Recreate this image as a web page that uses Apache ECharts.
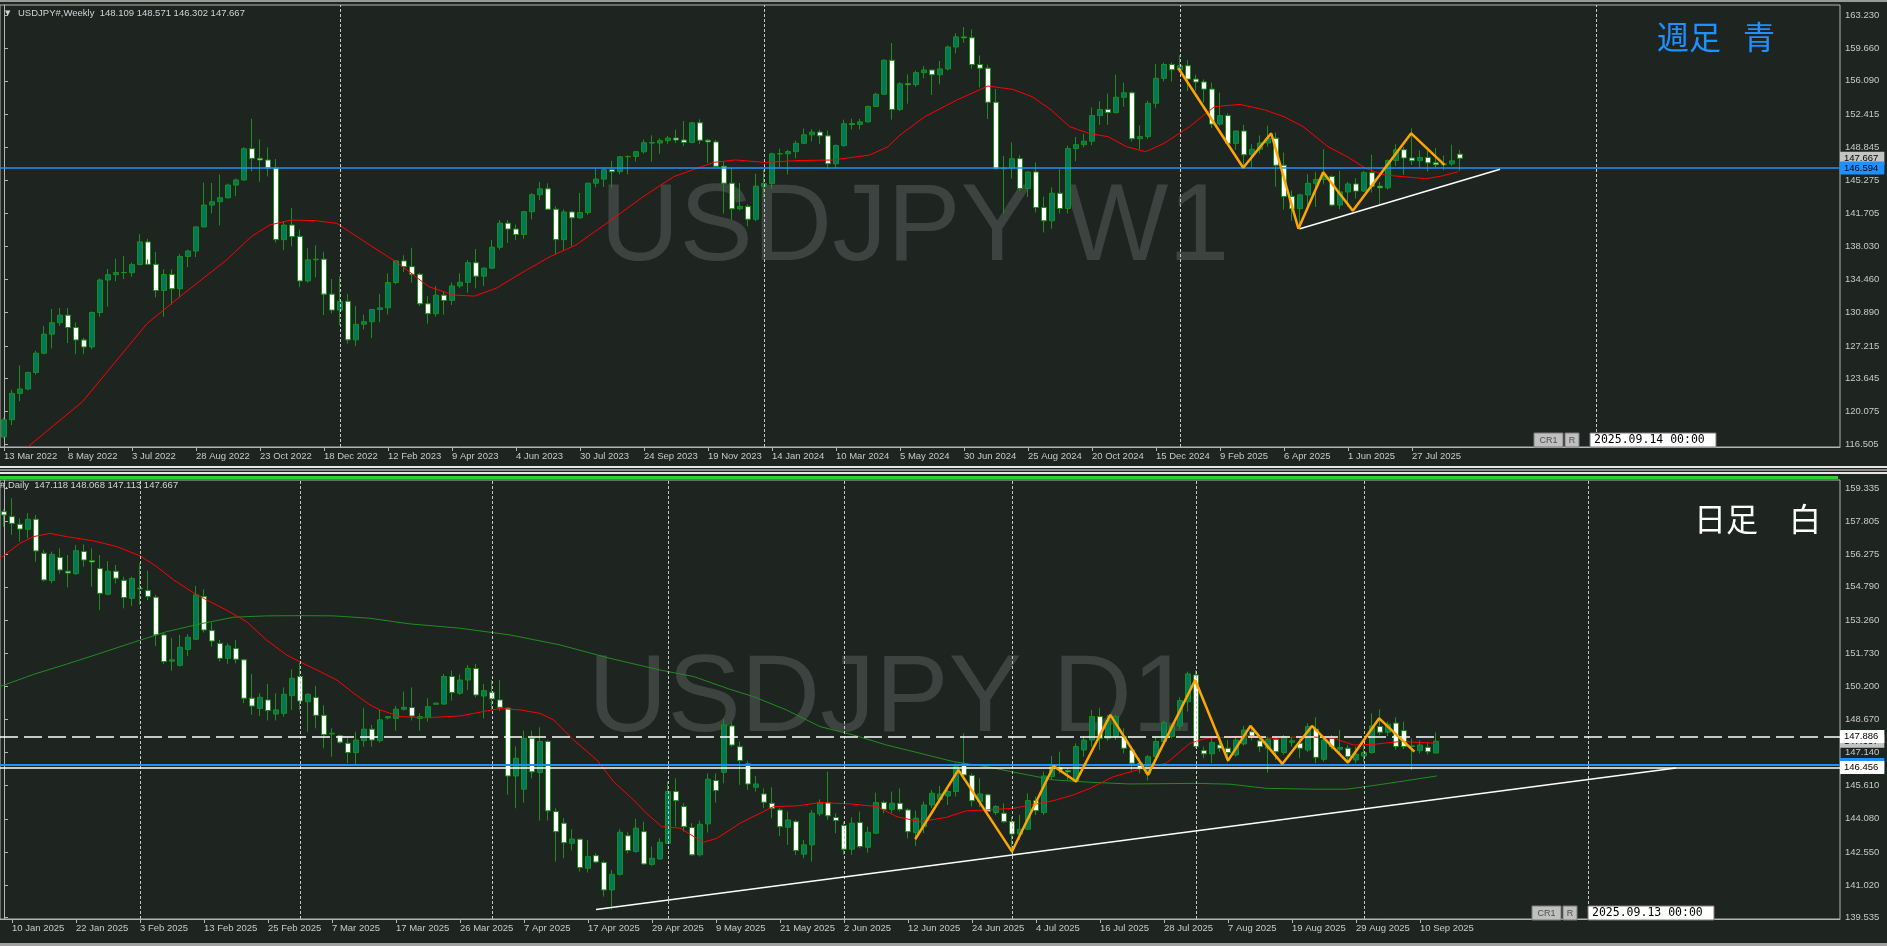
<!DOCTYPE html>
<html><head><meta charset="utf-8">
<script src="https://cdn.jsdelivr.net/npm/echarts@6.0.0/dist/echarts.min.js"></script>
<style>html,body{margin:0;padding:0;background:#1e2521;overflow:hidden}#c{width:1887px;height:946px}</style>
</head><body><div id="c"></div><script>
// ---------------- DATA ----------------
// Weekly USDJPY (bar 0 = week of 13 Mar 2022)
const weekOpen=[117.30,119.18,122.05,122.53,124.33,126.43,128.50,129.75,130.57,129.22,127.87,127.11,130.86,134.40,134.98,135.21,135.20,136.08,138.55,136.11,133.26,135.00,133.45,136.96,137.56,140.18,142.56,142.92,143.36,144.74,145.30,148.70,147.65,147.47,146.60,138.80,140.38,139.15,134.30,136.60,136.67,132.86,131.12,132.08,127.88,129.58,129.86,131.19,131.37,134.13,136.48,135.85,135.02,131.81,130.73,132.75,132.18,133.76,134.15,136.28,134.82,135.69,137.97,140.59,139.95,139.36,141.84,143.69,144.33,142.11,138.80,141.81,141.17,141.75,144.94,145.39,146.42,146.20,147.82,147.86,148.37,149.35,149.32,149.58,149.86,149.65,149.38,151.52,149.62,149.44,146.79,144.94,142.16,142.41,141.02,144.62,144.92,148.14,148.15,148.39,149.29,150.21,150.51,150.10,147.06,149.04,151.42,151.35,151.62,153.30,154.63,158.33,152.98,155.77,155.67,156.98,157.27,156.76,157.39,159.78,160.88,160.78,157.86,157.47,153.76,146.52,146.60,147.61,144.36,146.17,142.30,140.85,143.85,142.19,148.71,149.14,149.52,152.31,152.98,152.63,154.30,154.79,149.79,150.02,153.65,156.37,157.87,157.30,157.74,156.28,155.97,155.19,151.39,152.30,149.28,150.63,148.04,148.64,149.32,149.84,146.90,143.50,142.17,143.67,144.93,145.36,145.67,142.56,143.99,144.86,144.08,146.09,144.62,144.44,147.42,148.59,147.69,147.39,147.75,147.16,146.95,147.05,148.109];
const weekHigh=[119.40,122.44,125.09,124.40,126.68,129.40,131.25,131.35,131.35,129.77,128.10,130.98,134.56,135.60,136.71,137.00,136.30,139.39,138.88,137.46,135.58,135.57,137.23,137.70,140.24,144.99,144.97,145.90,144.90,145.45,148.86,151.95,149.71,148.84,147.57,140.80,142.25,139.89,137.86,138.18,137.47,134.50,134.78,132.87,131.58,130.63,131.20,132.89,135.11,136.53,137.10,137.91,135.18,132.65,133.75,133.20,134.14,135.14,136.56,137.77,135.77,138.75,140.92,140.93,140.46,141.90,143.87,145.07,144.93,142.42,142.07,141.95,143.89,145.00,146.56,146.64,147.37,147.87,147.95,148.47,149.71,150.16,149.83,150.10,150.78,151.72,151.60,151.91,149.75,149.68,147.33,146.59,144.96,142.63,145.98,146.41,148.28,148.70,148.58,149.58,150.89,150.84,150.77,150.68,149.16,151.86,151.97,151.95,153.39,154.79,158.44,160.21,155.95,156.79,157.20,157.71,157.29,158.26,159.94,161.27,161.95,161.69,158.86,157.86,155.21,147.90,149.38,148.00,146.25,147.21,143.48,144.49,146.49,149.04,149.98,150.30,153.19,153.88,154.71,156.75,155.89,154.94,151.23,153.92,157.93,158.08,158.08,158.87,158.37,156.75,156.25,155.89,154.80,152.56,150.68,151.30,149.20,150.15,151.21,150.49,148.28,144.15,143.80,145.92,146.18,148.65,145.80,146.28,145.10,145.48,146.27,148.03,145.10,147.54,149.19,148.88,150.92,148.51,148.52,148.78,147.95,149.13,148.571];
const weekLow=[117.20,118.60,121.20,122.40,124.10,126.30,126.95,129.40,127.52,126.36,126.36,126.86,130.40,131.50,134.27,134.50,134.75,135.99,136.65,132.52,130.40,131.73,132.56,135.80,136.90,140.20,141.66,140.35,143.26,143.53,145.20,146.23,145.11,145.68,138.47,137.67,138.07,133.62,134.12,134.68,130.58,130.78,129.50,127.46,127.22,129.02,128.08,129.80,130.64,133.94,135.26,134.12,131.56,129.64,130.40,130.63,131.68,133.50,133.02,133.50,133.74,135.60,137.70,138.43,138.76,138.89,141.01,143.09,142.07,137.24,137.68,138.06,141.08,141.53,144.50,144.53,144.44,145.91,145.91,147.31,148.17,147.29,148.15,149.24,149.32,149.00,149.28,149.20,147.15,146.67,141.63,140.96,141.98,140.25,140.80,143.42,144.35,146.65,145.89,147.64,149.20,149.50,149.21,146.48,146.62,148.90,150.80,150.81,151.56,153.22,154.55,151.86,152.79,153.60,155.45,156.37,154.55,155.72,157.21,159.08,160.23,157.39,155.38,151.94,146.41,141.68,145.45,144.12,143.45,141.75,139.58,139.99,141.65,141.65,147.35,148.84,149.09,151.30,151.30,152.55,153.26,149.47,148.65,149.75,153.15,156.05,156.02,157.12,154.98,155.04,153.72,150.94,151.20,149.29,148.57,146.93,146.55,148.18,148.92,144.55,142.07,140.86,139.89,141.97,142.36,144.81,142.41,142.11,142.37,143.27,143.98,143.92,142.68,144.25,146.81,145.85,146.92,146.62,146.21,146.60,146.34,146.82,146.302];
const weekClose=[119.18,122.05,122.53,124.33,126.43,128.50,129.75,130.57,129.22,127.87,127.11,130.86,134.40,134.98,135.21,135.20,136.08,138.55,136.11,133.26,135.00,133.45,136.96,137.56,140.18,142.56,142.92,143.36,144.74,145.30,148.70,147.65,147.47,146.60,138.80,140.38,139.15,134.30,136.60,136.67,132.86,131.12,132.08,127.88,129.58,129.86,131.19,131.37,134.13,136.48,135.85,135.02,131.81,130.73,132.75,132.18,133.76,134.15,136.28,134.82,135.69,137.97,140.59,139.95,139.36,141.84,143.69,144.33,142.11,138.80,141.81,141.17,141.75,144.94,145.39,146.42,146.20,147.82,147.86,148.37,149.35,149.32,149.58,149.86,149.65,149.38,151.52,149.62,149.44,146.79,144.94,142.16,142.41,141.02,144.62,144.92,148.14,148.15,148.39,149.29,150.21,150.51,150.10,147.06,149.04,151.42,151.35,151.62,153.30,154.63,158.33,152.98,155.77,155.67,156.98,157.27,156.76,157.39,159.78,160.88,160.78,157.86,157.47,153.76,146.52,146.60,147.61,144.36,146.17,142.30,140.85,143.85,142.19,148.71,149.14,149.52,152.31,152.98,152.63,154.30,154.79,149.79,150.02,153.65,156.37,157.87,157.30,157.74,156.28,155.97,155.19,151.39,152.30,149.28,150.63,148.04,148.64,149.32,149.84,146.90,143.50,142.17,143.67,144.93,145.36,145.67,142.56,143.99,144.86,144.08,146.09,144.62,144.44,147.42,148.59,147.69,147.39,147.75,147.16,146.95,147.05,147.38,147.667];
const weekMA=[[3,116.24],[9.8,121.14],[17.9,129.67],[22.5,132.94],[27.8,136.57],[30.9,139.12],[33.2,140.39],[35.9,140.93],[38.9,140.86],[41.6,140.57],[45.4,138.39],[49.3,136.21],[53.1,133.67],[56.2,132.76],[58.8,132.65],[61.5,133.49],[65.3,135.48],[68.4,137.01],[71.5,138.21],[75.3,140.57],[79.9,143.47],[83.7,145.65],[88.7,147.21],[91.4,147.47],[95.2,147.21],[99,147.4],[103.6,147.47],[108.2,148.01],[110.5,148.92],[112,150.19],[115.1,152.19],[119.1,154.0],[123,155.53],[126.1,155.16],[128.5,154.37],[130.9,152.92],[133.2,151.1],[135.6,150.37],[138,150.01],[140.3,148.92],[142.7,148.37],[145,149.28],[148.2,151.1],[151.3,153.28],[154.5,153.53],[157.6,152.92],[160,152.19],[162.4,151.1],[165.5,148.92],[167.9,147.83],[170.2,146.56],[172.6,145.83],[175,145.65],[177.7,145.43],[179.7,145.72],[181.8,146.2]];
const weekZigzag=[[146.8,157.46],[154.9,146.63],[158.4,150.38],[161.8,139.99],[164.9,146.13],[168.6,141.95],[175.9,150.38],[180.05,146.93]];
const weekTrend=[[162,139.99],[187,146.46]];
const weekTickLabels=['13 Mar 2022','8 May 2022','3 Jul 2022','28 Aug 2022','23 Oct 2022','18 Dec 2022','12 Feb 2023','9 Apr 2023','4 Jun 2023','30 Jul 2023','24 Sep 2023','19 Nov 2023','14 Jan 2024','10 Mar 2024','5 May 2024','30 Jun 2024','25 Aug 2024','20 Oct 2024','15 Dec 2024','9 Feb 2025','6 Apr 2025','1 Jun 2025','27 Jul 2025'];
const weekPriceTicks=[163.230,159.660,156.090,152.415,148.845,145.275,141.705,138.030,134.460,130.890,127.215,123.645,120.075,116.505];
const weekYearBars=[42,95,147,199];
const weekLevels={bid:147.667,blue:146.594};

// Daily USDJPY (bar 0 = 9 Jan 2025)
const dayOpen=[158.26,158.03,157.68,157.45,157.91,156.34,155.08,156.14,155.51,155.40,156.42,156.00,155.63,154.45,155.51,155.09,154.26,154.70,154.62,154.31,152.57,151.36,151.17,151.90,152.37,154.34,152.77,152.18,151.49,151.94,151.42,149.65,149.18,149.57,148.92,148.95,149.77,150.65,149.49,149.68,148.86,148.00,147.92,147.57,147.14,147.69,148.22,147.69,148.74,148.72,149.14,149.22,148.72,148.75,149.37,149.38,150.65,149.88,150.49,151.02,149.75,149.92,149.57,149.19,146.06,145.45,147.80,146.22,147.65,144.42,143.88,142.95,143.14,141.80,142.38,142.06,140.80,141.52,143.30,142.57,143.49,141.98,142.23,142.95,145.34,144.65,143.68,142.42,143.85,145.85,146.23,148.37,147.41,146.62,145.54,145.23,144.80,144.49,143.69,143.95,142.45,142.88,144.31,144.83,144.14,143.77,142.68,143.91,142.77,143.42,144.83,144.52,144.80,144.49,143.45,143.72,144.72,144.98,145.14,145.34,146.62,146.08,144.88,145.19,144.37,144.34,143.95,143.38,143.60,144.92,144.37,146.03,146.46,146.31,145.80,147.26,147.72,148.80,147.80,147.88,147.88,147.26,146.65,146.18,146.95,147.65,147.88,148.37,149.49,150.72,147.23,147.08,147.49,147.34,147.03,147.54,148.10,147.68,147.34,147.75,147.14,147.62,147.57,147.26,148.22,146.83,147.80,147.29,147.34,146.80,146.98,147.14,148.34,148.08,148.50,148.15,147.42,147.23,147.38,147.118];
const dayHigh=[158.37,158.88,157.95,158.20,158.11,156.50,156.42,156.57,156.26,156.72,156.75,156.57,156.26,155.98,155.80,155.26,155.26,155.88,155.54,154.42,152.65,152.42,152.57,152.61,154.83,154.68,153.14,152.34,152.18,152.34,151.45,150.77,149.88,150.31,149.88,150.15,150.98,151.29,149.88,150.22,149.32,148.26,147.98,147.80,148.10,149.19,148.42,149.11,148.83,149.29,149.95,150.15,148.95,149.65,149.45,150.77,150.92,150.75,151.18,151.23,150.31,150.49,150.49,149.23,147.42,148.15,148.15,148.31,147.72,144.57,144.11,143.60,143.18,143.11,142.49,142.15,141.72,143.61,143.46,144.08,143.95,142.80,143.18,145.80,145.95,144.80,143.88,144.00,146.18,146.18,148.68,148.57,147.65,146.77,146.06,145.49,145.54,144.57,144.42,144.03,143.11,144.49,144.98,146.26,144.34,143.95,144.15,144.42,143.72,145.29,144.92,145.34,145.49,144.57,144.46,144.88,145.42,145.60,145.57,146.65,148.03,146.18,145.95,145.26,144.72,144.80,144.18,144.26,145.26,145.11,146.26,146.98,147.18,146.42,147.57,147.88,149.11,149.19,148.88,148.88,148.26,147.41,146.88,147.03,147.88,148.62,148.42,149.69,150.88,150.95,147.41,147.80,147.88,147.72,147.88,148.37,148.40,147.88,147.88,147.88,147.95,147.88,147.80,148.49,148.77,147.80,147.95,148.18,147.49,147.41,147.49,148.95,149.14,148.57,148.77,148.57,147.80,147.70,147.60,148.068];
const dayLow=[157.57,157.19,156.88,157.03,155.95,155.03,154.95,155.40,154.77,155.34,155.72,154.80,153.72,154.40,154.95,153.80,153.90,153.95,154.18,152.06,151.23,150.92,151.11,151.60,152.34,152.68,152.03,151.34,151.23,151.26,149.42,148.88,148.83,148.62,148.62,148.80,149.11,149.08,148.10,148.26,147.34,146.95,147.55,146.65,146.57,147.41,147.41,147.60,148.67,148.15,149.08,148.62,148.15,148.57,149.35,149.34,149.54,149.80,150.03,149.69,148.72,149.11,149.08,145.19,144.57,144.83,145.95,144.00,144.00,142.11,142.26,142.62,141.65,141.60,142.03,140.49,139.88,141.45,142.49,142.52,141.95,141.91,142.20,142.92,143.72,143.49,142.37,142.34,143.45,144.83,145.72,147.41,145.65,145.42,145.34,144.57,144.11,143.29,142.88,142.42,142.26,142.11,144.20,144.03,143.42,142.42,142.42,142.72,142.52,143.38,144.34,144.34,144.42,143.18,142.83,143.42,144.57,144.80,144.72,145.11,145.88,144.65,144.62,144.34,144.26,143.88,142.49,143.11,143.57,144.26,144.26,145.88,146.18,145.88,145.75,146.95,147.41,147.26,147.69,147.72,147.11,146.31,146.18,145.85,146.80,147.49,147.80,148.20,149.03,147.34,146.88,146.65,147.18,146.68,146.95,147.46,147.70,147.18,146.21,146.80,147.03,147.41,146.88,147.18,146.65,146.72,147.29,147.11,146.72,146.65,146.72,147.08,147.95,147.90,147.27,147.30,146.33,147.10,147.05,147.113];
const dayClose=[158.11,157.72,157.46,157.91,156.45,155.11,156.29,155.57,155.43,156.46,156.03,155.94,154.49,155.51,155.19,154.30,155.18,154.73,154.34,152.57,151.34,151.42,152.00,152.46,154.42,152.80,152.29,151.49,152.06,151.45,149.65,149.29,149.69,149.08,149.11,149.83,150.57,149.52,149.83,148.86,147.98,148.03,147.62,147.14,147.72,148.22,147.72,148.65,148.80,149.14,149.23,148.83,148.80,149.26,149.42,150.65,149.91,150.49,151.03,149.80,150.00,149.62,149.23,146.06,146.88,147.80,146.25,147.65,144.45,143.49,142.98,143.15,141.83,142.34,142.09,140.80,141.52,143.46,142.62,143.65,142.00,142.26,143.00,145.34,144.92,143.72,142.42,143.83,145.91,145.39,148.42,147.49,146.77,145.69,145.69,144.85,144.57,143.72,144.03,142.62,142.88,144.34,144.83,144.22,144.00,142.68,143.88,142.80,143.46,144.83,144.52,144.80,144.52,143.49,144.11,144.72,145.26,145.23,145.34,146.49,146.11,144.92,145.23,144.42,144.65,143.95,143.38,143.60,144.92,144.46,146.06,146.49,146.34,146.25,147.42,147.72,148.80,147.80,148.62,148.80,147.34,146.65,146.42,146.95,147.65,148.52,148.37,149.54,150.77,147.42,147.08,147.60,147.34,147.14,147.72,148.18,147.90,147.41,147.75,147.18,147.88,147.68,147.34,148.34,146.92,147.72,147.41,147.38,146.95,147.07,147.14,148.37,148.08,148.45,147.42,147.42,147.45,147.49,147.18,147.667];
const dayMA20=[[-0.5,156.11],[2,156.8],[3.7,157.11],[5.75,157.26],[7.8,157.11],[11.2,156.91],[14.1,156.65],[17,156.22],[19.1,155.72],[21.2,155.11],[24.1,154.42],[27.8,153.72],[30.3,153.19],[32.8,152.34],[35.3,151.65],[37.2,151.29],[39.5,150.88],[41.6,150.49],[43.7,149.88],[45.75,149.34],[47,149.11],[49.5,148.8],[52.8,148.75],[57,148.83],[60.3,149.06],[62,149.17],[64.5,149.11],[67,148.95],[68.7,148.65],[71.2,147.72],[74.1,146.8],[76.2,145.8],[78.7,144.95],[80.3,144.34],[82.2,143.72],[84.5,143.65],[87.4,143.0],[89.1,143.18],[90.75,143.57],[92,143.88],[96.2,144.65],[99.1,144.68],[102,144.83],[105.75,144.77],[109.1,144.65],[111.6,144.18],[114.5,143.95],[117.8,144.15],[120.3,144.45],[122.8,144.49],[126.2,144.57],[129.1,144.77],[131.2,144.92],[133.7,145.19],[135.75,145.49],[138.7,146.03],[142,146.37],[145.3,146.65],[148.25,147.57],[150.3,147.8],[152.8,147.85],[155.3,147.91],[158.7,147.8],[162.8,147.88],[166.2,147.8],[168.7,147.49],[171.2,147.52],[174.5,147.65],[179.1,147.57]];
const dayMA100=[[-0.5,150.19],[3.7,150.75],[7.8,151.22],[12,151.72],[16.2,152.23],[20.3,152.72],[24.5,153.08],[28.7,153.39],[32.8,153.45],[37,153.46],[41.2,153.45],[45.75,153.34],[50.75,153.08],[57,152.88],[63.25,152.57],[69.5,152.11],[75.75,151.49],[82,150.95],[86.2,150.65],[90.75,150.06],[93.7,149.72],[97.8,149.11],[102,148.34],[106.2,147.95],[110.3,147.49],[114.5,147.11],[118.7,146.72],[122.8,146.49],[127,146.18],[131.2,145.88],[135.75,145.77],[140.75,145.69],[149.1,145.72],[153.25,145.68],[157.8,145.49],[163.7,145.45],[167.8,145.45],[170.3,145.57],[174.5,145.8],[179.1,146.06]];
const dayZigzag=[[113.9,143.14],[119.3,146.34],[126,142.57],[131.2,146.52],[134,145.8],[138.3,148.88],[143,146.11],[148.9,150.49],[153,146.77],[155.8,148.37],[159.8,146.62],[163.5,148.37],[168,146.68],[171.9,148.72],[176.3,147.18]];
const dayTrend=[[74,139.9],[209,146.43]];
const dayTickLabels=['10 Jan 2025','22 Jan 2025','3 Feb 2025','13 Feb 2025','25 Feb 2025','7 Mar 2025','17 Mar 2025','26 Mar 2025','7 Apr 2025','17 Apr 2025','29 Apr 2025','9 May 2025','21 May 2025','2 Jun 2025','12 Jun 2025','24 Jun 2025','4 Jul 2025','16 Jul 2025','28 Jul 2025','7 Aug 2025','19 Aug 2025','29 Aug 2025','10 Sep 2025'];
const dayPriceTicks=[159.335,157.805,156.275,154.790,153.260,151.730,150.200,148.670,147.140,145.610,144.080,142.550,141.020,139.535];
const dayMonthBars=[17,37,61,83,105,126,149,170,198];
const dayLevels={bid:147.667,dashed:147.886,blue:146.594,white:146.456};

// ---------------- CHART ----------------
const SLOTS=230, FONT='"Liberation Sans", Arial, sans-serif', TXT='#c8c8c8', FRAME='#b4b4b4';
const slots=Array.from({length:SLOTS},(_,i)=>String(i));
const toCandles=(o,h,l,c)=>o.map((v,i)=>[v,c[i],l[i],h[i]]);
function tickFn(start,labels){return (idx)=>idx>=start&&(idx-start)%8===0&&(idx-start)/8<labels.length;}
function catAxis(grid,start,labels){
  return {type:'category',gridIndex:grid,data:slots,boundaryGap:true,
    axisLine:{show:true,lineStyle:{color:FRAME,width:1}},
    axisTick:{show:true,interval:tickFn(start,labels),alignWithLabel:true,length:4,lineStyle:{color:FRAME}},
    axisLabel:{interval:tickFn(start,labels),formatter:(v,i)=>labels[(i-start)/8]||'',align:'left',margin:4,color:TXT,fontFamily:FONT,fontSize:9.5},
    splitLine:{show:false}};
}
function valAxisX(grid){return {type:'value',gridIndex:grid,min:-0.5,max:SLOTS-0.5,show:false};}
function priceAxis(grid,min,max,ticks){
  return {type:'value',gridIndex:grid,position:'right',min:min,max:max,
    axisLine:{show:true,lineStyle:{color:FRAME}},
    axisTick:{show:true,length:4,customValues:ticks,lineStyle:{color:FRAME}},
    axisLabel:{customValues:ticks,formatter:v=>v.toFixed(3),color:TXT,fontFamily:FONT,fontSize:9.5,margin:5},
    splitLine:{show:false}};
}
function tag(v,bg,fg){return {show:true,position:'end',distance:0,formatter:v.toFixed(3),
  backgroundColor:bg,color:fg,fontFamily:FONT,fontSize:9.5,padding:[2,6,1,4]};}
function vline(i){return {xAxis:String(i),lineStyle:{color:'#c8c8c8',type:[3,2],width:1},label:{show:false}};}
const HIDDEN={color:'rgba(0,0,0,0)',width:0};
const candleStyle={color:'#00785a',color0:'#ffffff',borderColor:'#1b8f1b',borderColor0:'#1b8f1b',borderWidth:1};
function lineS(xi,yi,data,color,width,z){return {type:'line',xAxisIndex:xi,yAxisIndex:yi,data:data,showSymbol:false,symbol:'none',
  lineStyle:{color:color,width:width},itemStyle:{color:color},z:z,silent:true,animation:false};}

const chart=echarts.init(document.getElementById('c'),null,{renderer:'canvas'});
const option={
  backgroundColor:'#1e2521',animation:false,
  grid:[{left:0,top:5,width:1840,height:442,show:true,borderColor:FRAME,borderWidth:1,containLabel:false},
        {left:0,top:480,width:1840,height:439,show:true,borderColor:FRAME,borderWidth:1,containLabel:false}],
  xAxis:[catAxis(0,0,weekTickLabels),catAxis(1,1,dayTickLabels),valAxisX(0),valAxisX(1)],
  yAxis:[priceAxis(0,116.211,164.352,weekPriceTicks),priceAxis(1,139.457,159.723,dayPriceTicks)],
  graphic:[
    {type:'rect',shape:{x:0,y:0,width:1887,height:2},style:{fill:'#9a9a9a'},z:10},
    {type:'rect',shape:{x:0,y:466,width:1887,height:2},style:{fill:'#e6e6e6'},z:10},
    {type:'rect',shape:{x:0,y:469,width:1887,height:2},style:{fill:'#8c8c8c'},z:10},
    {type:'rect',shape:{x:0,y:472,width:1887,height:2},style:{fill:'#e6e6e6'},z:10},
    {type:'rect',shape:{x:0,y:476,width:1838,height:3},style:{fill:'#32cd32'},z:10},
    {type:'rect',shape:{x:0,y:943,width:1887,height:3},style:{fill:'#a0a0a0'},z:10},
    // watermarks
    {type:'text',z:0,style:{x:600,y:230,text:'USDJPY W1',fill:'#3d4340',font:'110px "Liberation Sans", Arial, sans-serif',textAlign:'left',textVerticalAlign:'middle'}},
    {type:'text',z:0,style:{x:588,y:701,text:'USDJPY D1',fill:'#3d4340',font:'110px "Liberation Sans", Arial, sans-serif',textAlign:'left',textVerticalAlign:'middle'}},
    // headers
    {type:'text',z:10,style:{x:5,y:13,text:'▼',fill:'#cfd4d8',font:'7px "DejaVu Sans", sans-serif',textVerticalAlign:'middle'}},
    {type:'text',z:10,style:{x:18,y:13,text:'USDJPY#,Weekly  148.109 148.571 146.302 147.667',fill:'#cfd4d8',font:'9.5px "Liberation Sans", Arial, sans-serif',textVerticalAlign:'middle'}},
    {type:'text',z:10,style:{x:0,y:485,text:'#,Daily  147.118 148.068 147.113 147.667',fill:'#cfd4d8',font:'9.5px "Liberation Sans", Arial, sans-serif',textVerticalAlign:'middle'}},
    // Japanese labels
    {type:'text',z:10,style:{x:1657,y:37,text:'週足',fill:'#1e90ff',font:'32px "Noto Sans CJK JP", sans-serif',textVerticalAlign:'middle'}},
    {type:'text',z:10,style:{x:1743,y:37,text:'青',fill:'#1e90ff',font:'32px "Noto Sans CJK JP", sans-serif',textVerticalAlign:'middle'}},
    {type:'text',z:10,style:{x:1694,y:519,text:'日足',fill:'#ffffff',font:'32px "Noto Sans CJK JP", sans-serif',textVerticalAlign:'middle'}},
    {type:'text',z:10,style:{x:1789,y:519,text:'白',fill:'#ffffff',font:'32px "Noto Sans CJK JP", sans-serif',textVerticalAlign:'middle'}},
    // CR1 / R / date boxes
    ...[[433,'2025.09.14 00:00',1534],[906,'2025.09.13 00:00',1532]].flatMap(([y,d,x])=>[
      {type:'rect',z:10,shape:{x:x,y:y,width:29,height:14},style:{fill:'#c0c0c0',stroke:'#7a7a7a',lineWidth:1}},
      {type:'text',z:11,style:{x:x+14.5,y:y+7.5,text:'CR1',fill:'#505050',font:'9px "Liberation Sans", Arial',textAlign:'center',textVerticalAlign:'middle'}},
      {type:'rect',z:10,shape:{x:x+31,y:y,width:14,height:14},style:{fill:'#c0c0c0',stroke:'#7a7a7a',lineWidth:1}},
      {type:'text',z:11,style:{x:x+38,y:y+7.5,text:'R',fill:'#505050',font:'9px "Liberation Sans", Arial',textAlign:'center',textVerticalAlign:'middle'}},
      {type:'rect',z:10,shape:{x:x+56,y:y,width:126,height:14},style:{fill:'#ffffff',stroke:'#7a7a7a',lineWidth:1}},
      {type:'text',z:11,style:{x:x+60,y:y+7.5,text:d,fill:'#000000',font:'11.5px "DejaVu Sans Mono", monospace',textVerticalAlign:'middle'}}
    ])
  ],
  series:[
    {type:'candlestick',xAxisIndex:0,yAxisIndex:0,data:toCandles(weekOpen,weekHigh,weekLow,weekClose),barWidth:5,itemStyle:candleStyle,z:3,silent:true,
      markLine:{symbol:'none',silent:true,animation:false,precision:3,data:[
        ...weekYearBars.map(vline),
        {yAxis:weekLevels.bid,lineStyle:HIDDEN,label:tag(weekLevels.bid,'#c4c4c4','#000000')},
        {yAxis:weekLevels.blue,lineStyle:{color:'#1e90ff',width:1.5,type:'solid'},label:tag(weekLevels.blue,'#1e90ff','#000000')}
      ]}},
    lineS(2,0,weekMA,'#ff0000',1,4),
    lineS(2,0,weekZigzag,'#ffa500',2.5,5),
    lineS(2,0,weekTrend,'#ffffff',1.5,5),
    {type:'candlestick',xAxisIndex:1,yAxisIndex:1,data:toCandles(dayOpen,dayHigh,dayLow,dayClose),barWidth:5,itemStyle:candleStyle,z:3,silent:true,
      markLine:{symbol:'none',silent:true,animation:false,precision:3,data:[
        ...dayMonthBars.map(vline),
        {yAxis:dayLevels.bid,lineStyle:HIDDEN,label:tag(dayLevels.bid,'#c4c4c4','#000000')},
        {yAxis:dayLevels.dashed,lineStyle:{color:'#ffffff',width:1.5,type:[18,6]},label:tag(dayLevels.dashed,'#ffffff','#000000')},
        {yAxis:dayLevels.blue,lineStyle:{color:'#1e90ff',width:2,type:'solid'},label:tag(dayLevels.blue,'#1e90ff','#000000')},
        {yAxis:dayLevels.white,lineStyle:{color:'#ffffff',width:1.5,type:'solid'},label:tag(dayLevels.white,'#ffffff','#000000')}
      ]}},
    lineS(3,1,dayMA100,'#228b22',1,4),
    lineS(3,1,dayMA20,'#ff0000',1,4),
    lineS(3,1,dayZigzag,'#ffa500',2.5,5),
    lineS(3,1,dayTrend,'#ffffff',1.5,5)
  ]
};
chart.setOption(option);
</script></body></html>
